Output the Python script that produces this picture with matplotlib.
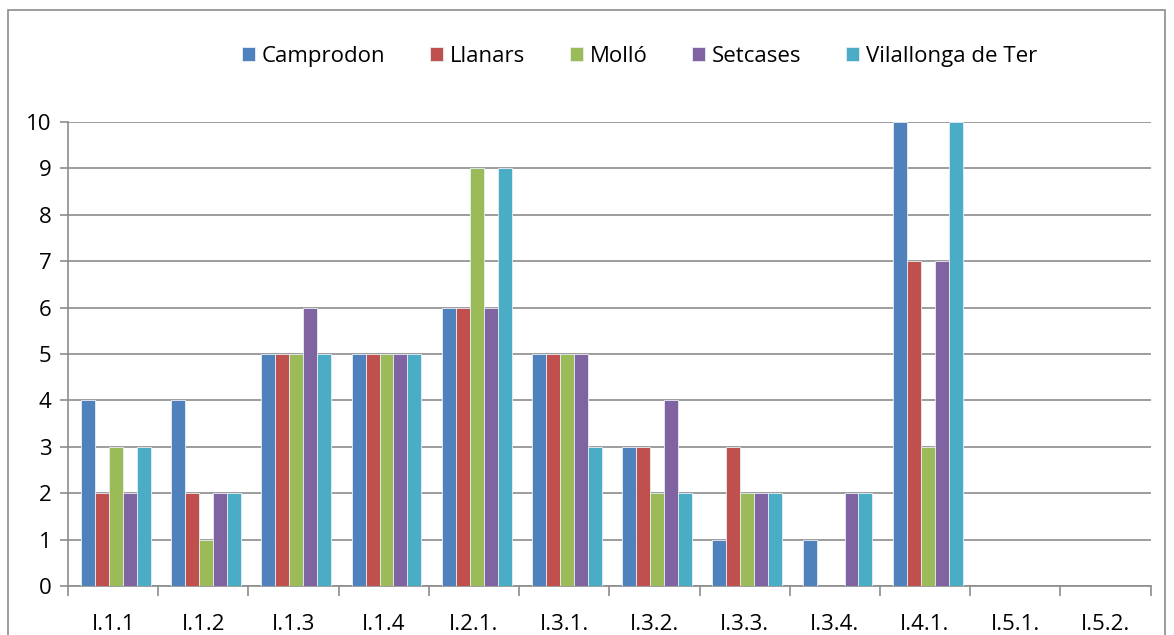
import numpy as np
import matplotlib
matplotlib.use("Agg")
import matplotlib.pyplot as plt
from matplotlib.patches import Rectangle

categories = ['I.1.1', 'I.1.2', 'I.1.3', 'I.1.4', 'I.2.1.', 'I.3.1.',
              'I.3.2.', 'I.3.3.', 'I.3.4.', 'I.4.1.', 'I.5.1.', 'I.5.2.']
camprodon = [4, 4, 5, 5, 6, 5, 3, 1, 1, 10, 0, 0]
llanars = [2, 2, 5, 5, 6, 5, 3, 3, 0, 7, 0, 0]
mollo = [3, 1, 5, 5, 9, 5, 2, 2, 0, 3, 0, 0]
setcases = [2, 2, 6, 5, 6, 5, 4, 2, 2, 7, 0, 0]
vilallonga = [3, 2, 5, 5, 9, 3, 2, 2, 2, 10, 0, 0]

series = [camprodon, llanars, mollo, setcases, vilallonga]
names = ['Camprodon', 'Llanars', 'Molló', 'Setcases', 'Vilallonga de Ter']
colors = ['#4F81BD', '#C0504D', '#9BBB59', '#8064A2', '#4BACC6']

plt.rcParams['font.family'] = ['Open Sans', 'DejaVu Sans']

fig = plt.figure(figsize=(11.74, 6.35), dpi=100)
ax = fig.add_axes([0.058, 0.077, 0.922, 0.731])

x = np.arange(len(categories))
w = 0.155
for i, (vals, name, c) in enumerate(zip(series, names, colors)):
    ax.bar(x + (i - 2) * w + 0.03, vals, width=w, color=c, label=name,
           edgecolor='#e8eef5', linewidth=0.6, zorder=3)

ax.set_xlim(-0.5, len(categories) - 0.5)
ax.set_ylim(0, 10)
ax.set_yticks(range(0, 11))
ax.grid(axis='y', color='#8c8c8c', linewidth=1.2, zorder=0)

ax.set_xticks(x)
ax.set_xticklabels(categories, fontsize=16)
ax.set_xticks(np.arange(-0.5, len(categories)), minor=True)
ax.tick_params(axis='x', which='major', length=0, pad=20)
ax.tick_params(axis='x', which='minor', length=7, color='#8c8c8c', width=1.2)
ax.tick_params(axis='y', labelsize=16, length=6, color='#8c8c8c', width=1.2, pad=6)

for s in ['top', 'right']:
    ax.spines[s].set_visible(False)
for s in ['left', 'bottom']:
    ax.spines[s].set_color('#8c8c8c')
    ax.spines[s].set_linewidth(1.2)

ax.legend(loc='center', bbox_to_anchor=(0.528, 1.142), ncol=5, frameon=False,
          fontsize=16, handlelength=0.6, handleheight=0.6, handletextpad=0.3,
          columnspacing=2.0)

fig.patches.append(Rectangle((0.007, -0.05), 0.985, 1.035, transform=fig.transFigure,
                             fill=False, edgecolor='#8c8c8c', linewidth=1.2))

fig.savefig('out.png', dpi=100)
